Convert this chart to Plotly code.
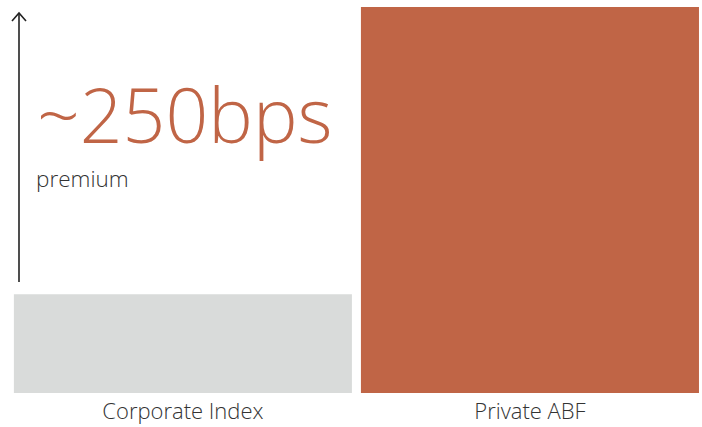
import plotly.graph_objects as go

# Spread comparison (in bps)
categories = ["Corporate Index", "Private ABF"]
spread_bps = [86, 336]
premium_bps = 250
bar_colors = ["#D9DBDA", "#C06546"]

ACCENT = "#C06546"
INK = "#333333"
W, H = 702, 427
MB = 34
PLOT_H = H - MB


def px(x):
    return x / W


def py(y):
    return (PLOT_H - y) / PLOT_H


fig = go.Figure()
fig.add_trace(go.Bar(
    x=[0, 1],
    y=spread_bps,
    width=0.974,
    marker=dict(color=bar_colors, line=dict(width=0)),
    hoverinfo="skip",
))

# Upward arrow on the left
shapes = [
    dict(type="line", xref="paper", yref="paper",
         x0=px(19), x1=px(19), y0=py(282), y1=py(13),
         line=dict(color="#222222", width=1.6)),
    dict(type="path", xref="paper", yref="paper",
         path=f"M {px(12)},{py(21)} L {px(19)},{py(13)} L {px(26)},{py(21)}",
         line=dict(color="#222222", width=1.6)),
]

annotations = [
    dict(text=f"~{premium_bps}bps", xref="paper", yref="paper",
         x=px(35), y=py(114), xanchor="left", yanchor="middle",
         showarrow=False,
         font=dict(family="Open Sans", size=75, color=ACCENT, weight=300)),
    dict(text="premium", xref="paper", yref="paper",
         x=px(34), y=py(178), xanchor="left", yanchor="middle",
         showarrow=False,
         font=dict(family="Open Sans", size=22.5, color=INK, weight=300)),
]

fig.update_layout(
    width=W, height=H,
    margin=dict(l=0, r=0, t=0, b=MB, pad=0),
    paper_bgcolor="white", plot_bgcolor="white",
    showlegend=False,
    shapes=shapes,
    annotations=annotations,
    xaxis=dict(range=[-0.527, 1.4957], tickvals=[0, 1], ticktext=categories,
               showgrid=False, zeroline=False, showline=False, ticks="",
               ticklabelstandoff=3,
               tickfont=dict(family="Open Sans", size=22, color=INK, weight=300),
               fixedrange=True),
    yaxis=dict(range=[0, 342.1], visible=False, fixedrange=True),
)

fig.write_html("out.html")
